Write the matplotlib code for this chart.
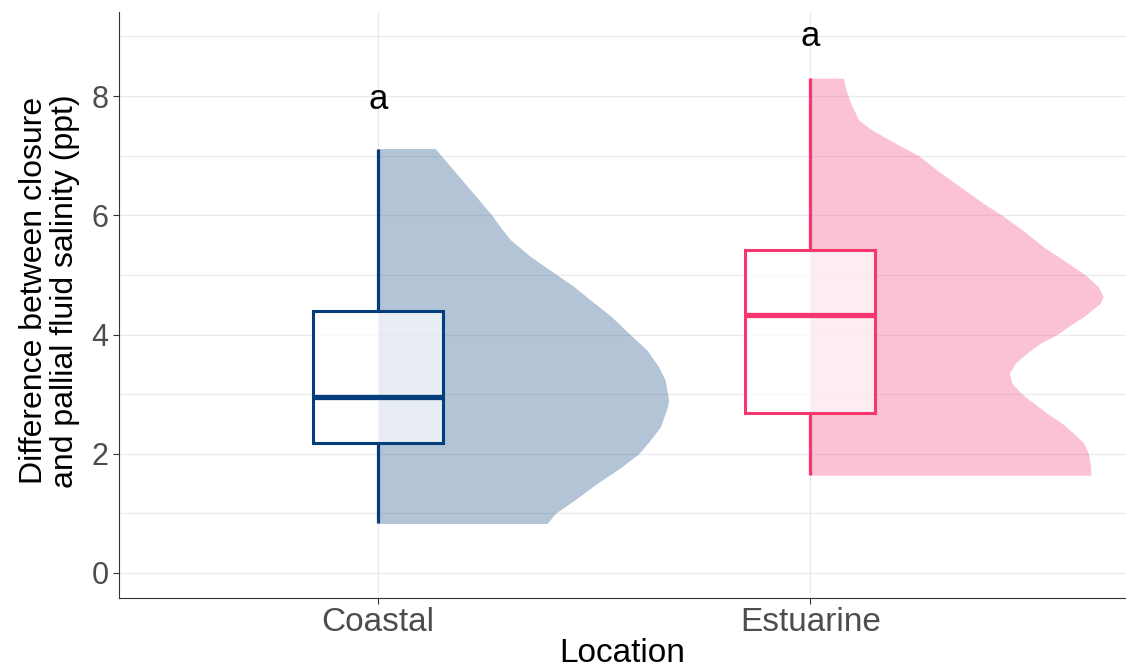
import matplotlib
matplotlib.use("Agg")
import matplotlib.pyplot as plt
from matplotlib.ticker import MultipleLocator

plt.rcParams['font.family'] = ['Liberation Sans', 'DejaVu Sans']

# groups and their box-plot summaries (ppt)
locations = ["Coastal", "Estuarine"]
colors = ["#053d7c", "#f5366f"]
q_min = [0.83, 1.64]
q1 = [2.18, 2.68]
median = [2.95, 4.33]
q3 = [4.39, 5.42]
q_max = [7.12, 8.30]

# significance letters and where they sit
letters = ["a", "a"]
letter_y = [7.95, 9.0]

# half-violin outlines: salinity value -> density half-width (x units)
coastal_y = [0.83, 1.0, 1.25, 1.5, 1.76, 2.0, 2.23, 2.45, 2.79, 2.9, 3.0,
             3.24, 3.46, 3.74, 4.0, 4.30, 4.58, 4.81, 5.0, 5.31, 5.59, 5.81,
             6.0, 6.26, 6.48, 7.0, 7.12]
coastal_w = [0.391, 0.410, 0.460, 0.506, 0.560, 0.603, 0.630, 0.653, 0.670,
             0.672, 0.670, 0.664, 0.649, 0.622, 0.583, 0.540, 0.491, 0.452,
             0.414, 0.352, 0.306, 0.282, 0.263, 0.233, 0.207, 0.146, 0.132]
estuarine_y = [1.64, 1.84, 2.0, 2.18, 2.34, 2.51, 2.68, 2.85, 3.0, 3.18,
               3.35, 3.52, 3.69, 3.85, 4.0, 4.19, 4.30, 4.52, 4.64, 4.80,
               5.0, 5.25, 5.47, 5.76, 6.0, 6.20, 6.48, 6.76, 7.0, 7.21, 7.43,
               7.60, 7.88, 8.10, 8.30]
estuarine_w = [0.650, 0.648, 0.644, 0.633, 0.610, 0.583, 0.548, 0.517, 0.490,
               0.467, 0.461, 0.475, 0.502, 0.532, 0.571, 0.609, 0.633, 0.671,
               0.678, 0.667, 0.637, 0.586, 0.540, 0.490, 0.444, 0.401, 0.347,
               0.293, 0.251, 0.197, 0.143, 0.112, 0.094, 0.083, 0.077]
violins = [(coastal_y, coastal_w), (estuarine_y, estuarine_w)]

fig = plt.figure(figsize=(11.26, 6.70), dpi=100)
ax = fig.add_axes([119 / 1126, 72 / 670, 1 - 119 / 1126, (598 - 12) / 670])

box_w = 0.3
for i, name in enumerate(locations):
    pos = i + 1
    c = colors[i]
    vy, vw = violins[i]
    ax.fill_betweenx(vy, pos, [pos + w for w in vw], color=c, alpha=0.3,
                     linewidth=0, zorder=2)
    # whiskers
    ax.plot([pos, pos], [q_min[i], q1[i]], color=c, lw=2.3, zorder=4,
            solid_capstyle="butt")
    ax.plot([pos, pos], [q3[i], q_max[i]], color=c, lw=2.3, zorder=4,
            solid_capstyle="butt")
    # box
    rect = plt.Rectangle((pos - box_w / 2, q1[i]), box_w, q3[i] - q1[i],
                         facecolor=(1, 1, 1, 0.7), edgecolor=c, lw=2.2,
                         zorder=3)
    ax.add_patch(rect)
    ax.plot([pos - box_w / 2, pos + box_w / 2], [median[i], median[i]],
            color=c, lw=3.8, zorder=4, solid_capstyle="butt")
    ax.text(pos, letter_y[i], letters[i], ha="center", va="center",
            fontsize=25, color="black", zorder=5)

ax.set_xlim(0.4, 2.731)
ax.set_ylim(-0.42, 9.41)
ax.set_xticks([1, 2])
ax.set_xticklabels(locations)
ax.yaxis.set_major_locator(MultipleLocator(2))
ax.yaxis.set_minor_locator(MultipleLocator(1))

ax.grid(True, which="major", color="#ebebeb", lw=0.9, zorder=0)
ax.grid(True, which="minor", axis="y", color="#ebebeb", lw=0.9, zorder=0)
ax.set_axisbelow(True)

for s in ["top", "right"]:
    ax.spines[s].set_visible(False)
for s in ["left", "bottom"]:
    ax.spines[s].set_color("#333333")
    ax.spines[s].set_linewidth(0.8)

ax.tick_params(axis="both", which="major", color="#333333", length=4.5,
               width=0.8, colors="#4d4d4d")
ax.tick_params(axis="y", which="minor", length=0)
ax.tick_params(axis="y", labelsize=22, pad=3)
ax.tick_params(axis="x", labelsize=24, pad=2)

ax.set_xlabel("Location", fontsize=24, color="black", labelpad=0)
fig.text(0.044, 0.566, "Difference between closure\nand pallial fluid salinity (ppt)",
         rotation=90, ha="center", va="center", multialignment="center",
         fontsize=23, color="black", linespacing=1.05)

fig.savefig("out.png", dpi=100, facecolor="white")
